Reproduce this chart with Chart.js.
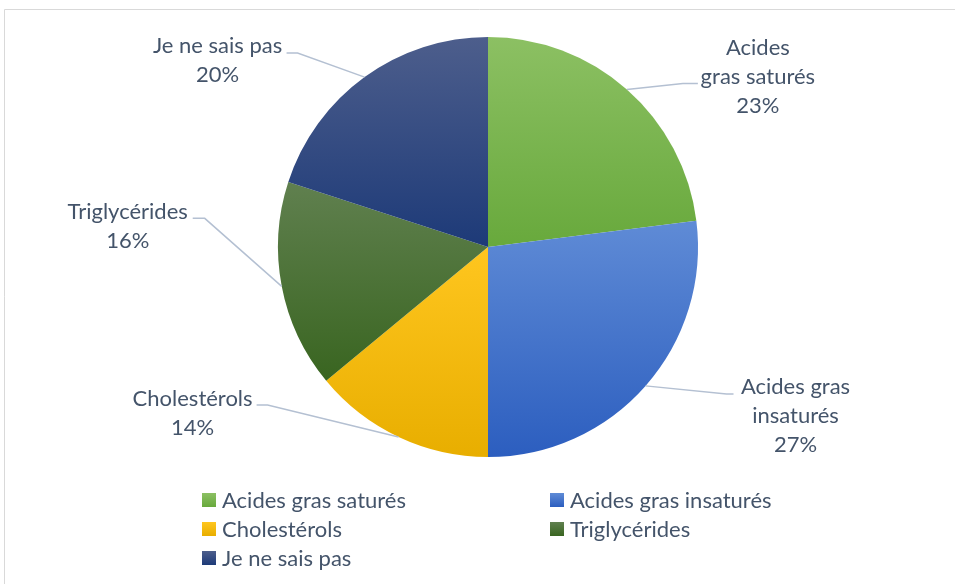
<!DOCTYPE html>
<html>
<head>
<meta charset="utf-8">
<script src="https://cdn.jsdelivr.net/npm/chart.js@4/dist/chart.umd.min.js"></script>
<style>
    html, body { margin: 0; padding: 0; background: #fff; }
    #chart { display: block; }
</style>
</head>
<body>
<canvas id="chart" width="955" height="584"></canvas>
<script>
// data
const categories = ['Acides gras saturés', 'Acides gras insaturés', 'Cholestérols', 'Triglycérides', 'Je ne sais pas'];
const percentages = [23, 27, 14, 16, 20];
const labelLines = [['Acides', 'gras saturés'], ['Acides gras', 'insaturés'], ['Cholestérols'], ['Triglycérides'], ['Je ne sais pas']];

// slice colours (top of gradient / bottom of gradient)
const topColors = ['#8cc063', '#5f8bd6', '#ffc61f', '#60804f', '#4d5e8c'];
const bottomColors = ['#68a93c', '#2c5ebf', '#e8ae00', '#396520', '#1d3a78'];

const textColor = '#44546a';
const leaderColor = '#b4c0d2';
const fontFamily = 'Lato, "Open Sans", sans-serif';

// vertical extent of a pie sector, used for the gradient
function sectorYRange(arc) {
    const { x, y, startAngle, endAngle, outerRadius } = arc.getProps(['x', 'y', 'startAngle', 'endAngle', 'outerRadius']);
    let ys = [y, y + outerRadius * Math.sin(startAngle), y + outerRadius * Math.sin(endAngle)];
    const hits = (theta) => {
        for (let k = -2; k <= 2; k++) {
            const t = theta + k * 2 * Math.PI;
            if (t >= startAngle && t <= endAngle) return true;
        }
        return false;
    };
    if (hits(Math.PI / 2)) ys.push(y + outerRadius);
    if (hits(-Math.PI / 2)) ys.push(y - outerRadius);
    return [Math.min(...ys), Math.max(...ys)];
}

const gradientPlugin = {
    id: 'sliceGradient',
    beforeDatasetsDraw(chart) {
        const ctx = chart.ctx;
        chart.getDatasetMeta(0).data.forEach((arc, i) => {
            const [y0, y1] = sectorYRange(arc);
            const g = ctx.createLinearGradient(0, y0, 0, y1);
            g.addColorStop(0, topColors[i]);
            g.addColorStop(1, bottomColors[i]);
            arc.options.backgroundColor = g;
        });
    }
};

const framePlugin = {
    id: 'frame',
    beforeDraw(chart) {
        const ctx = chart.ctx;
        ctx.save();
        ctx.strokeStyle = '#d9d9d9';
        ctx.lineWidth = 1;
        ctx.beginPath();
        ctx.moveTo(4.5, chart.height);
        ctx.lineTo(4.5, 9.5);
        ctx.lineTo(chart.width, 9.5);
        ctx.stroke();
        ctx.restore();
    }
};

// outside labels with leader lines, placed relative to the slice's mid point on the rim
const outsideLabelPlugin = {
    id: 'outsideLabels',
    afterDatasetsDraw(chart, args, opts) {
        const ctx = chart.ctx;
        ctx.save();
        chart.getDatasetMeta(0).data.forEach((arc, i) => {
            const { x, y, startAngle, endAngle, outerRadius } = arc.getProps(['x', 'y', 'startAngle', 'endAngle', 'outerRadius']);
            const mid = (startAngle + endAngle) / 2;
            const px = x + outerRadius * Math.cos(mid);
            const py = y + outerRadius * Math.sin(mid);
            const p = opts.place[i];

            ctx.strokeStyle = leaderColor;
            ctx.lineWidth = 1.5;
            ctx.beginPath();
            ctx.moveTo(px, py);
            ctx.lineTo(px + p.elbow[0], py + p.elbow[1]);
            ctx.lineTo(px + p.end[0], py + p.end[1]);
            ctx.stroke();

            const lines = labelLines[i].concat([percentages[i] + '%']);
            const cx = px + p.text[0];
            const cy = py + p.text[1];
            ctx.fillStyle = textColor;
            ctx.font = opts.fontSize + 'px ' + fontFamily;
            ctx.textAlign = 'center';
            ctx.textBaseline = 'middle';
            const top = cy - (lines.length - 1) * opts.lineHeight / 2;
            lines.forEach((t, j) => ctx.fillText(t, cx, top + j * opts.lineHeight));
        });
        ctx.restore();
    }
};

// two column legend under the pie
const gridLegendPlugin = {
    id: 'gridLegend',
    afterDraw(chart, args, opts) {
        const ctx = chart.ctx;
        ctx.save();
        ctx.font = opts.fontSize + 'px ' + fontFamily;
        ctx.textBaseline = 'middle';
        ctx.textAlign = 'left';
        categories.forEach((name, i) => {
            const col = i % 2;
            const row = Math.floor(i / 2);
            const bx = opts.columns[col];
            const by = opts.top + row * opts.rowHeight;
            const g = ctx.createLinearGradient(0, by - opts.box / 2, 0, by + opts.box / 2);
            g.addColorStop(0, topColors[i]);
            g.addColorStop(1, bottomColors[i]);
            ctx.fillStyle = g;
            ctx.fillRect(bx, by - opts.box / 2, opts.box, opts.box);
            ctx.fillStyle = textColor;
            ctx.fillText(name, bx + opts.box + 6, by + 1);
        });
        ctx.restore();
    }
};

document.addEventListener('DOMContentLoaded', function () {
    const ctx = document.getElementById('chart').getContext('2d');
    new Chart(ctx, {
        type: 'pie',
        data: {
            labels: categories,
            datasets: [{
                data: percentages,
                backgroundColor: bottomColors,
                borderWidth: 0
            }]
        },
        options: {
            responsive: false,
            animation: false,
            layout: { padding: { left: 278, right: 257, top: 37, bottom: 127 } },
            plugins: {
                legend: { display: false },
                tooltip: { enabled: false },
                outsideLabels: {
                    fontSize: 22,
                    lineHeight: 29,
                    place: [
                        { text: [131, -13], elbow: [56, -6], end: [71, -6] },
                        { text: [150, 30], elbow: [81, 8], end: [88, 8] },
                        { text: [-206, -24], elbow: [-131, -32], end: [-142, -32] },
                        { text: [-154, -60], elbow: [-77, -68], end: [-89, -68] },
                        { text: [-147, -17], elbow: [-67, -24], end: [-78, -24] }
                    ]
                },
                gridLegend: {
                    fontSize: 22,
                    columns: [202, 550],
                    top: 500,
                    rowHeight: 29,
                    box: 14
                }
            }
        },
        plugins: [framePlugin, gradientPlugin, outsideLabelPlugin, gridLegendPlugin]
    });
});
</script>
</body>
</html>
